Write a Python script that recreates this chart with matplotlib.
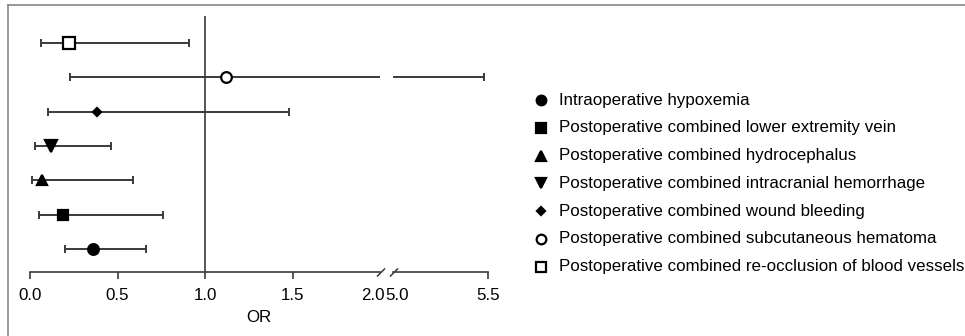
import matplotlib
matplotlib.use("Agg")
import matplotlib.pyplot as plt
from matplotlib.lines import Line2D

plt.rcParams["font.family"] = ["Liberation Sans", "DejaVu Sans"]

# data (bottom row first)
labels = [
    "Intraoperative hypoxemia",
    "Postoperative combined lower extremity vein",
    "Postoperative combined hydrocephalus",
    "Postoperative combined intracranial hemorrhage",
    "Postoperative combined wound bleeding",
    "Postoperative combined subcutaneous hematoma",
    "Postoperative combined re-occlusion of blood vessels",
]
or_vals = [0.36, 0.19, 0.07, 0.12, 0.38, 1.12, 0.22]
ci_low = [0.20, 0.05, 0.01, 0.03, 0.10, 0.23, 0.06]
ci_high = [0.66, 0.76, 0.59, 0.46, 1.48, 5.48, 0.91]
left_ticks = [0.0, 0.5, 1.0, 1.5, 2.0]
right_ticks = [5.0, 5.5]

markers = ["o", "s", "^", "v", "D", "o", "s"]
filled = [True, True, True, True, True, False, False]
msizes = [7.7, 7.7, 7.7, 8.0, 4.5, 7.7, 8.0]

W, H = 965, 336
fig = plt.figure(figsize=(W / 100, H / 100), dpi=100)

def fx(px):
    return px / W

def fy(py):
    return 1 - py / H

ax_bottom = fy(272)
ax_top = fy(16)
ax1 = fig.add_axes([fx(30), ax_bottom, fx(380) - fx(30), ax_top - ax_bottom])
ax2 = fig.add_axes([fx(393), ax_bottom, fx(488) - fx(393), ax_top - ax_bottom], sharey=ax1)

line_col = "#3a3a3a"
rows = list(range(1, len(labels) + 1))
fs = 12.2

for ax in (ax1, ax2):
    for i, y in enumerate(rows):
        lo, hi, v = ci_low[i], ci_high[i], or_vals[i]
        ax.errorbar([v], [y], xerr=[[v - lo], [hi - v]], fmt="none",
                    ecolor=line_col, elinewidth=1.4, capsize=3.1, capthick=1.4,
                    zorder=2)
        ax.plot([v], [y], marker=markers[i], ms=msizes[i], ls="none",
                mfc="black" if filled[i] else "white", mec="black",
                mew=1.6, zorder=3)
    for s in ("top", "right", "left"):
        ax.spines[s].set_visible(False)
    ax.spines["bottom"].set_color(line_col)
    ax.spines["bottom"].set_linewidth(1.2)
    ax.tick_params(axis="y", left=False, labelleft=False)
    ax.tick_params(axis="x", direction="out", length=5, width=1.2,
                   color=line_col, labelsize=fs, pad=6.5)

ax1.set_xlim(0, 2.0)
ax2.set_xlim(5.0, 5.5)
ax1.set_ylim(0.33, 7.79)
ax1.set_xticks(left_ticks)
ax1.set_xticklabels([f"{t:.1f}" for t in left_ticks[:-1]] + [""])
ax2.set_xticks(right_ticks)
ax2.set_xticklabels([""] + [f"{t:.1f}" for t in right_ticks[1:]])
ax1.xaxis.get_major_ticks()[-1].tick1line.set_visible(False)
ax2.xaxis.get_major_ticks()[0].tick1line.set_visible(False)

# labels at the break sit side by side
fig.text(fx(385), fy(295), f"{left_ticks[-1]:.1f}", ha="right", va="center", fontsize=fs)
fig.text(fx(385), fy(295), f"{right_ticks[0]:.1f}", ha="left", va="center", fontsize=fs)

ax1.axvline(1.0, color=line_col, lw=1.2, zorder=1)

# break marks
for xc in (381, 394):
    fig.add_artist(Line2D([fx(xc - 3.5), fx(xc + 3.5)], [fy(276), fy(269)],
                          color=line_col, lw=1.1))

fig.text(fx(259), fy(318), "OR", ha="center", va="center", fontsize=fs)

# legend
for i, lab in enumerate(labels):
    y = fy(100 + i * 27.8)
    fig.add_artist(Line2D([fx(541)], [y], marker=markers[i], ms=msizes[i] * 0.9,
                          ls="none", mfc="black" if filled[i] else "white",
                          mec="black", mew=1.6))
    fig.text(fx(559), y, lab, ha="left", va="center", fontsize=fs)

# frame
fig.add_artist(Line2D([fx(8), 1], [fy(5), fy(5)], color="#888888", lw=1.2))
fig.add_artist(Line2D([fx(8), fx(8)], [fy(5), 0], color="#888888", lw=1.2))

fig.savefig("out.png", dpi=100)
